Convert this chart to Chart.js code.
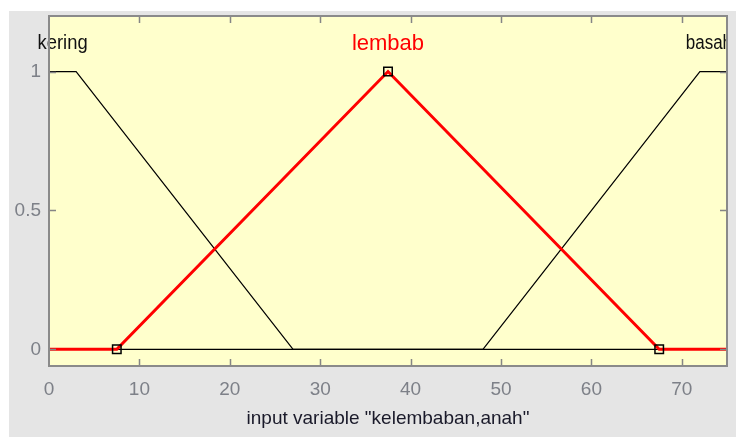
<!DOCTYPE html>
<html><head><meta charset="utf-8">
<script src="https://cdn.jsdelivr.net/npm/chart.js@4/dist/chart.umd.min.js"></script>
<style>html,body{margin:0;padding:0;background:#fff;}#wrap{width:736px;height:437px;}</style>
</head><body><div id="wrap"><canvas id="c" width="736" height="437"></canvas></div>
<script>
// ---- data ----
const xTicks = [0, 10, 20, 30, 40, 50, 60, 70];
const yTicks = [0, 0.5, 1];
const mfNames = ['kering', 'lembab', 'basah'];
const keringX = [0, 3, 27, 75];
const keringY = [1, 1, 0, 0];
const lembabX = [0, 7.5, 37.5, 67.5, 75];
const lembabY = [0, 0, 1, 0, 0];
const basahX = [0, 48, 72, 75];
const basahY = [0, 0, 1, 1];
const labelX = [1.5, 37.5, 73.0];
const labelY = [1.1, 1.1, 1.1];
const xTitle = 'input variable "kelembaban,anah"';

const pts = (xs, ys) => xs.map((x, i) => ({x: x, y: ys[i]}));
const FONT = 'Arial, "Liberation Sans", sans-serif';

const decor = {
  id: 'decor',
  beforeDraw(chart) {
    const {ctx, chartArea: a} = chart;
    ctx.save();
    ctx.fillStyle = '#ffffff';
    ctx.fillRect(0, 0, chart.width, chart.height);
    ctx.fillStyle = '#e5e5e5';
    ctx.fillRect(9, 11, chart.width - 9, chart.height - 11);
    ctx.fillStyle = '#ffffcc';
    ctx.fillRect(a.left, a.top, a.right - a.left, a.bottom - a.top);
    ctx.restore();
  },
  afterDatasetsDraw(chart) {
    const {ctx, chartArea: a, scales: {x, y}} = chart;
    ctx.save();
    ctx.beginPath();
    ctx.rect(0, 0, a.right, chart.height);
    ctx.clip();
    ctx.textAlign = 'left';
    ctx.textBaseline = 'middle';
    const sizes = [20, 22, 20];
    const squeeze = [0.92, 1, 0.85];
    mfNames.forEach((n, i) => {
      ctx.font = sizes[i] + 'px ' + FONT;
      ctx.fillStyle = i === 1 ? '#ff0000' : '#111111';
      const w = ctx.measureText(n).width * squeeze[i];
      const cx = x.getPixelForValue(labelX[i]);
      const cy = y.getPixelForValue(labelY[i]);
      ctx.save();
      ctx.translate(cx - w / 2, cy);
      ctx.scale(squeeze[i], 1);
      ctx.fillText(n, 0, 0);
      ctx.restore();
    });
    ctx.restore();
  },
  afterDraw(chart) {
    const {ctx, chartArea: a, scales: {x, y}} = chart;
    ctx.save();
    ctx.strokeStyle = '#858585';
    ctx.lineWidth = 1.5;
    const L = 7;
    ctx.beginPath();
    xTicks.forEach(v => {
      const px = Math.round(x.getPixelForValue(v)) + 0.5;
      if (px <= a.left + 1) return;
      ctx.moveTo(px, a.bottom); ctx.lineTo(px, a.bottom - L);
      ctx.moveTo(px, a.top); ctx.lineTo(px, a.top + L);
    });
    yTicks.forEach(v => {
      const py = Math.round(y.getPixelForValue(v)) + 0.5;
      ctx.moveTo(a.left, py); ctx.lineTo(a.left + L, py);
      ctx.moveTo(a.right, py); ctx.lineTo(a.right - L, py);
    });
    ctx.stroke();
    ctx.lineWidth = 2;
    ctx.strokeStyle = '#8a8a8a';
    ctx.strokeRect(a.left, a.top, a.right - a.left, a.bottom - a.top);
    ctx.restore();
  }
};

new Chart(document.getElementById('c'), {
  type: 'scatter',
  data: {
    datasets: [
      {label: mfNames[1], data: pts(lembabX, lembabY), showLine: true, borderColor: '#ff0000', borderWidth: 3,
       pointRadius: [0, 6, 6, 6, 0], pointStyle: 'rect', pointBackgroundColor: 'rgba(0,0,0,0)',
       pointBorderColor: '#000000', pointBorderWidth: 1.5},
      {label: mfNames[0], data: pts(keringX, keringY), showLine: true, borderColor: '#000000', borderWidth: 1.2, pointRadius: 0},
      {label: mfNames[2], data: pts(basahX, basahY), showLine: true, borderColor: '#000000', borderWidth: 1.2, pointRadius: 0}
    ]
  },
  options: {
    responsive: false,
    animation: false,
    devicePixelRatio: 1,
    layout: {padding: {left: 0, top: 16, right: 9, bottom: 0}},
    plugins: {legend: {display: false}, tooltip: {enabled: false}},
    scales: {
      x: {
        type: 'linear', min: 0, max: 75,
        afterBuildTicks: s => { s.ticks = xTicks.map(v => ({value: v})); },
        afterFit: s => { s.height = 71; s.paddingLeft = 0; s.paddingRight = 0; },
        grid: {display: false, drawTicks: false},
        border: {display: false},
        ticks: {font: {family: FONT, size: 19}, color: '#7d8088', padding: 12, maxRotation: 0, autoSkip: false},
        title: {display: true, text: xTitle, font: {family: FONT, size: 19}, color: '#1a1a2a', padding: {top: 0, bottom: 7}}
      },
      y: {
        type: 'linear', min: -0.06, max: 1.2,
        afterBuildTicks: s => { s.ticks = yTicks.map(v => ({value: v})); },
        afterFit: s => { s.width = 49; s.paddingTop = 0; s.paddingBottom = 0; },
        grid: {display: false, drawTicks: false},
        border: {display: false},
        ticks: {font: {family: FONT, size: 19}, color: '#7d8088', padding: 8, autoSkip: false,
                callback: v => String(v)}
      }
    }
  },
  plugins: [decor]
});
</script></body></html>
